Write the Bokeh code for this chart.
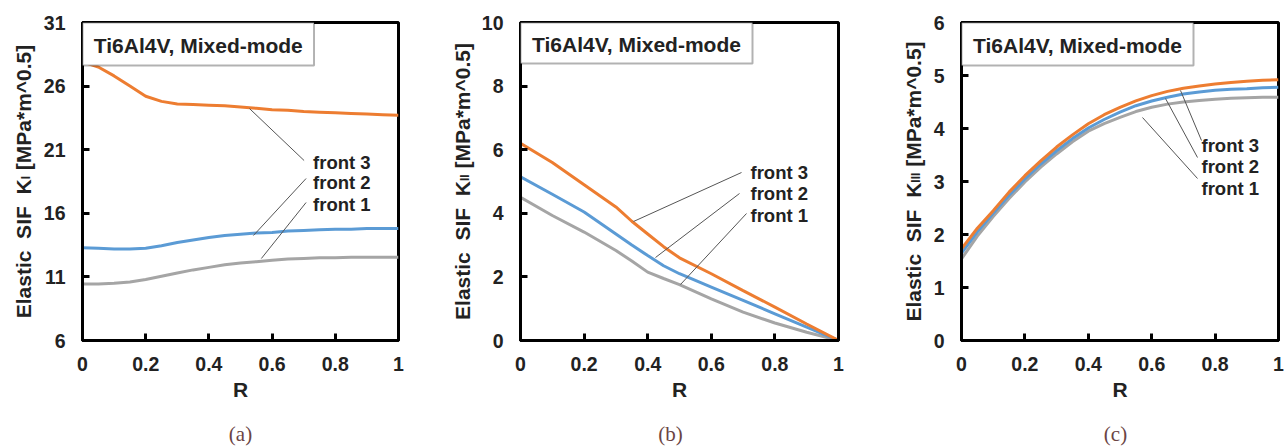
import math
from bokeh.plotting import figure
from bokeh.layouts import row, column
from bokeh.models import Range1d, FixedTicker, NumeralTickFormatter, BoxAnnotation, Label
from bokeh.core.properties import value
from bokeh.embed import file_html
from bokeh.resources import INLINE

# ---------------- data ----------------
R21 = [0, 0.05, 0.1, 0.15, 0.2, 0.25, 0.3, 0.35, 0.4, 0.45, 0.5,
       0.55, 0.6, 0.65, 0.7, 0.75, 0.8, 0.85, 0.9, 0.95, 1.0]
R_b = [0, 0.1, 0.2, 0.3, 0.35, 0.4, 0.45, 0.5, 0.6, 0.7, 0.8, 0.9, 1.0]

# (a) K_I
KI_front3 = [27.9, 27.5, 26.8, 26.0, 25.2, 24.8, 24.6, 24.55, 24.5, 24.45, 24.35,
             24.25, 24.15, 24.1, 24.0, 23.95, 23.9, 23.85, 23.8, 23.75, 23.7]
KI_front2 = [13.3, 13.25, 13.2, 13.2, 13.25, 13.45, 13.7, 13.9, 14.1, 14.25, 14.35,
             14.45, 14.5, 14.6, 14.65, 14.7, 14.75, 14.75, 14.8, 14.8, 14.8]
KI_front1 = [10.45, 10.45, 10.5, 10.6, 10.8, 11.05, 11.3, 11.55, 11.75, 11.95, 12.1,
             12.2, 12.3, 12.4, 12.45, 12.5, 12.5, 12.55, 12.55, 12.55, 12.55]

# (b) K_II
KII_front3 = [6.2, 5.6, 4.9, 4.2, 3.75, 3.35, 2.95, 2.6, 2.1, 1.57, 1.05, 0.52, 0.0]
KII_front2 = [5.15, 4.6, 4.04, 3.35, 3.0, 2.67, 2.35, 2.1, 1.68, 1.26, 0.84, 0.42, 0.0]
KII_front1 = [4.5, 3.93, 3.41, 2.83, 2.5, 2.15, 1.95, 1.76, 1.31, 0.89, 0.55, 0.26, 0.0]

# (c) K_III
KIII_front3 = [1.73, 2.12, 2.45, 2.8, 3.11, 3.39, 3.65, 3.88, 4.09, 4.26, 4.4,
               4.52, 4.62, 4.7, 4.76, 4.8, 4.84, 4.87, 4.89, 4.91, 4.92]
KIII_front2 = [1.65, 2.05, 2.4, 2.74, 3.05, 3.33, 3.58, 3.81, 4.01, 4.17, 4.31,
               4.43, 4.52, 4.59, 4.65, 4.69, 4.72, 4.74, 4.75, 4.77, 4.78]
KIII_front1 = [1.54, 1.97, 2.34, 2.68, 2.99, 3.27, 3.52, 3.75, 3.95, 4.09, 4.21,
               4.32, 4.4, 4.46, 4.5, 4.53, 4.55, 4.57, 4.58, 4.59, 4.59]

series_names = ["front 1", "front 2", "front 3"]
x_ticks = [0, 0.2, 0.4, 0.6, 0.8, 1]
yticks_a = [6, 11, 16, 21, 26, 31]
yticks_b = [0, 2, 4, 6, 8, 10]
yticks_c = [0, 1, 2, 3, 4, 5, 6]
box_text = "Ti6Al4V, Mixed-mode"
captions = ["(a)", "(b)", "(c)"]
subscripts = ["I", "II", "III"]
ylabel_words = ["Elastic", "SIF", "K"]
ylabel_unit = "[MPa*m^0.5]"

COLORS = ["#A5A5A5", "#5B9BD5", "#ED7D31"]  # front1, front2, front3
FONT = "Liberation Sans"
TXT = "#222222"
W, H = 1285, 448
TOP, FH = 22, 318
MAIN_H = 418           # main row height, caption strip below
CAP_H = H - MAIN_H
BOT = MAIN_H - TOP - FH

# Arial/Liberation Sans Bold advance widths (per 1000 em) for label layout
ADV = {"E": 667, "l": 278, "a": 556, "s": 556, "t": 333, "i": 278, "c": 556, " ": 278,
       "S": 667, "I": 278, "F": 611, "K": 722, "[": 333, "M": 833, "P": 667, "*": 389,
       "m": 889, "^": 584, "0": 556, ".": 278, "5": 556, "]": 333}


def tw(s, fs):
    return sum(ADV.get(ch, 556) for ch in s) * fs / 1000.0


def blank_fig(w, h, top=0, bottom=0):
    # data units == pixels; y measured upward from the figure's bottom edge
    f = figure(width=w, height=h, x_range=Range1d(0, w), y_range=Range1d(bottom, h - top),
               output_backend="svg", toolbar_location=None,
               x_axis_location=None, y_axis_location=None,
               min_border_left=0, min_border_right=0, min_border_top=top, min_border_bottom=bottom)
    f.xgrid.visible = False
    f.ygrid.visible = False
    f.outline_line_color = None
    f.background_fill_color = "white"
    f.border_fill_color = "white"
    return f


def ylabel_fig(w, center_x, sub):
    """Rotated y-axis title with subscript, drawn in a narrow strip (pixel units)."""
    f = blank_fig(w, MAIN_H, top=TOP, bottom=BOT)
    fs, sfs = 21, 12
    parts = []  # (text, size, offset along text, dx)
    pos = 0.0
    parts.append((ylabel_words[0], fs, pos, 0)); pos += tw("Elastic  ", fs)
    parts.append((ylabel_words[1], fs, pos, 0)); pos += tw("SIF  ", fs)
    parts.append((ylabel_words[2], fs, pos, 0)); pos += tw("K", fs)
    parts.append((sub, sfs, pos, 2.5)); pos += tw(sub, sfs) + tw(" ", fs)
    parts.append((ylabel_unit, fs, pos, 0)); pos += tw(ylabel_unit, fs)
    total = pos
    start = TOP + FH / 2 + total / 2   # page y (from top) where the text begins
    for txt, size, off, dx in parts:
        f.text(x=[center_x + dx], y=[MAIN_H - (start - off)], text=[txt], angle=math.pi / 2,
               text_font=value(FONT), text_font_style="bold", text_font_size=value(f"{size}px"),
               text_color=TXT, text_align="left", text_baseline="middle")
    return f


def make_panel(cfg):
    fw, wl, wr = cfg["fw"], cfg["bl"], cfg["br"]
    fl = wl
    x0, x1 = 0, 1
    y0, y1 = cfg["yr"]

    def conv(px, py):
        return (x0 + (px - fl) / fw * (x1 - x0), y1 - (py - TOP) / FH * (y1 - y0))

    p = figure(width=wl + fw + wr, height=MAIN_H, x_range=Range1d(x0, x1), y_range=Range1d(y0, y1),
               output_backend="svg", toolbar_location=None,
               min_border_left=wl, min_border_right=wr, min_border_top=TOP,
               min_border_bottom=BOT)
    p.xgrid.visible = False
    p.ygrid.visible = False
    p.outline_line_color = "black"
    p.outline_line_width = 3
    p.outline_line_alpha = 1
    p.background_fill_color = "white"
    p.border_fill_color = "white"

    for ax, ticks in ((p.xaxis[0], x_ticks), (p.yaxis[0], cfg["yticks"])):
        ax.ticker = FixedTicker(ticks=ticks, minor_ticks=[])
        ax.axis_line_color = "black"
        ax.axis_line_width = 3
        ax.major_tick_in = 7
        ax.major_tick_out = 0
        ax.major_tick_line_width = 3
        ax.major_tick_line_color = "black"
        ax.minor_tick_line_color = None
        ax.major_label_text_font = FONT
        ax.major_label_text_font_style = "bold"
        ax.major_label_text_font_size = "19.5px"
        ax.major_label_text_color = TXT
    p.xaxis[0].formatter = NumeralTickFormatter(format="0.[0]")
    p.xaxis[0].major_label_standoff = 16
    p.yaxis[0].major_label_standoff = 17
    p.xaxis[0].axis_label = "R"
    p.xaxis[0].axis_label_text_font = FONT
    p.xaxis[0].axis_label_text_font_style = "bold"
    p.xaxis[0].axis_label_text_font_size = "21px"
    p.xaxis[0].axis_label_text_color = TXT
    p.xaxis[0].axis_label_standoff = 4

    xs = cfg["x"]
    for vals, col in zip(cfg["series"], COLORS):
        p.line(xs, vals, line_color=col, line_width=3)

    # leader lines + labels
    for (a, b, t), name in zip(cfg["leaders"], series_names):
        ax_, ay_ = conv(*a)
        bx_, by_ = conv(*b)
        p.segment(x0=[ax_], y0=[ay_], x1=[bx_], y1=[by_], line_color="#555555", line_width=1)
        tx, ty = conv(*t)
        p.add_layout(Label(x=tx, y=ty, text=name, text_font=FONT, text_font_style="bold",
                           text_font_size="18.5px", text_color=TXT,
                           text_align="left", text_baseline="middle"))

    # title box
    (bx0, by0), (bx1, by1) = cfg["box"]
    l_, t_ = conv(bx0, by0)
    r_, b_ = conv(bx1, by1)
    p.add_layout(BoxAnnotation(left=l_, right=r_, top=t_, bottom=b_, fill_color="white",
                               fill_alpha=1, line_color="black", line_width=2, level="overlay"))
    cx, cy = conv((bx0 + bx1) / 2, (by0 + by1) / 2 + 1)
    p.add_layout(Label(x=cx, y=cy, text=box_text, text_font=FONT, text_font_style="bold",
                       text_font_size="21px", text_color=TXT,
                       text_align="center", text_baseline="middle", level="overlay"))
    return p


# page-pixel layout: [label strip | main figure] x 3
panels = [
    dict(off=0, lab_w=40, fw=318, br=30, yr=(6, 31), yticks=yticks_a, x=R21,
         series=[KI_front1, KI_front2, KI_front3],
         leaders=[((260, 258), (305, 202), (312, 204)),
                  ((252, 235), (305, 178), (312, 182)),
                  ((248, 108), (303, 160), (312, 162))],
         box=((80, 22), (313, 65)), frame_left=80, sub=subscripts[0], ylab_c=23),
    dict(off=428, lab_w=50, fw=318, br=20, yr=(0, 10), yticks=yticks_b, x=R_b,
         series=[KII_front1, KII_front2, KII_front3],
         leaders=[((680, 284), (746, 213), (750, 215)),
                  ((655, 257), (739, 193), (750, 193)),
                  ((633, 221), (741, 172), (750, 172))],
         box=((520, 22), (752, 63)), frame_left=520, sub=subscripts[1], ylab_c=462),
    dict(off=858, lab_w=70, fw=317, br=7, yr=(0, 6), yticks=yticks_c, x=R21,
         series=[KIII_front1, KIII_front2, KIII_front3],
         leaders=[((1142, 117), (1197, 178), (1201, 188)),
                  ((1165, 98), (1197, 157), (1201, 166)),
                  ((1180, 90), (1201, 140), (1201, 145))],
         box=((961, 22), (1193, 65)), frame_left=961, sub=subscripts[2], ylab_c=913),
]
caption_x = [240, 670, 1115]

figs = []
for cfg in panels:
    off = cfg["off"]
    main_left = off + cfg["lab_w"]
    c = dict(cfg)
    c["bl"] = cfg["frame_left"] - main_left
    # convert absolute page pixels into main-figure-local pixels
    c["leaders"] = [tuple((px - main_left, py) for (px, py) in trip) for trip in cfg["leaders"]]
    c["box"] = tuple((px - main_left, py) for (px, py) in cfg["box"])
    figs.append(ylabel_fig(cfg["lab_w"], cfg["ylab_c"] - off, cfg["sub"]))
    figs.append(make_panel(c))

cap = blank_fig(W, CAP_H)
cap.text(x=caption_x, y=[H - 433] * 3, text=captions, text_font=value("Liberation Serif"),
         text_font_size=value("21px"), text_color="#6b4444",
         text_align="center", text_baseline="middle")

layout = column(row(*figs, spacing=0), cap, spacing=0)
open("out.html", "w").write(file_html(layout, INLINE))
